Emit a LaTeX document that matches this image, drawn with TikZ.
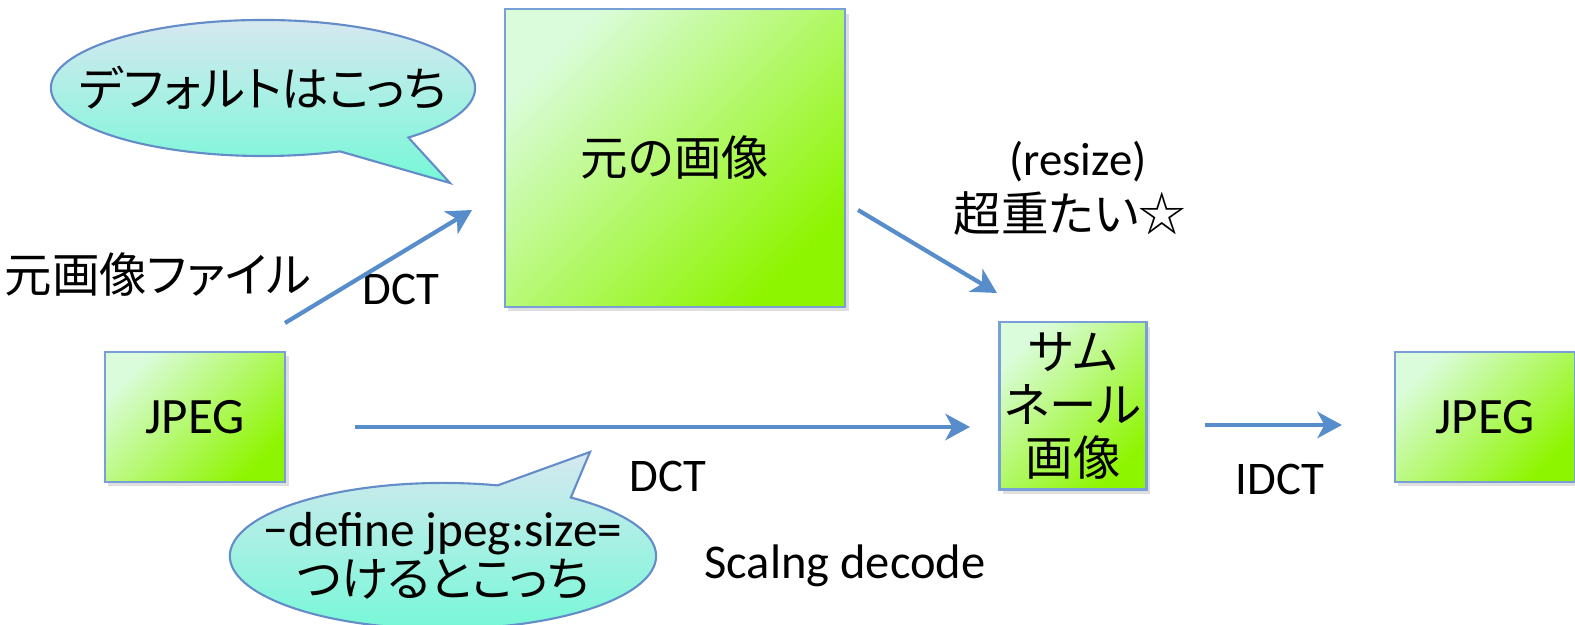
\documentclass[tikz,border=0pt]{standalone}
\usepackage{fontspec}
\setmainfont{Carlito}
\newfontfamily\jp[RawFeature=+palt]{Noto Sans CJK JP}
\usetikzlibrary{shapes.callouts,arrows.meta,shadows}

\definecolor{arrowblue}{RGB}{88,141,203}
\definecolor{boxline}{RGB}{120,160,215}
\definecolor{boxlight}{RGB}{218,252,218}
\definecolor{boxdark}{RGB}{142,245,0}
\definecolor{bubtop}{RGB}{214,232,240}
\definecolor{bubbottom}{RGB}{118,248,215}
\definecolor{bubline}{RGB}{100,140,200}

\tikzset{
  greenbox/.style={draw=boxline, line width=0.6pt, top color=boxlight, bottom color=boxdark,
    shading angle=45, inner sep=0pt, align=center,
    drop shadow={shadow xshift=1pt, shadow yshift=-1.2pt, opacity=0.25}},
  bubble/.style={ellipse callout, draw=bubline, line width=0.6pt, top color=bubtop,
    bottom color=bubbottom, inner sep=0pt, align=center, callout pointer arc=22},
  flow/.style={draw=arrowblue, line width=1.2pt, -{Stealth[length=7pt,width=7.5pt,inset=2pt]}},
  jtext/.style={font=\jp\fontsize{13.5}{15}\selectfont},
  ltext/.style={font=\fontsize{13.3}{15}\selectfont}
}

\begin{document}
\begin{tikzpicture}[x=0.01cm,y=-0.01cm]
  \useasboundingbox (0,0) rectangle (1575,625);

  % boxes
  \node[greenbox, jtext, minimum width=3.4cm, minimum height=2.97cm] (orig) at (675,158) {元の画像};
  \node[greenbox, font=\fontsize{14.5}{16}\selectfont, minimum width=1.8cm, minimum height=1.3cm] (src) at (195,417) {JPEG};
  \node[greenbox, jtext, minimum width=1.47cm, minimum height=1.67cm] (thumb) at (1073,406)
    {サム\\ネール\\画像};
  \node[greenbox, font=\fontsize{14.5}{16}\selectfont, minimum width=1.8cm, minimum height=1.3cm] (dst) at (1485,417) {JPEG};

  % bubbles
  \node[bubble, jtext, minimum width=4.24cm, minimum height=1.36cm,
    callout absolute pointer={(450,183)}] (deflt) at (263,88) {\makebox[0pt]{デフォルトはこっち}};
  \node[bubble, font=\fontsize{14}{14}\selectfont, minimum width=4.26cm, minimum height=1.46cm,
    callout absolute pointer={(590,452)}] (sizeopt) at (443,556)
    {\makebox[0pt]{−define jpeg:size=}\\
     \makebox[0pt]{\jp\fontsize{13.5}{14}\selectfont つけるとこっち}};

  % labels
  \node[jtext] (fname) at (158,275) {元画像ファイル};
  \node[ltext] (dct1) at (401,289) {DCT};
  \node[ltext] (rsz) at (1078,162) {(resize)};
  \node[jtext] (heavy) at (1070,213) {超重たい☆};
  \node[ltext] (dct2) at (668,476) {DCT};
  \node[ltext, font=\fontsize{13.8}{15}\selectfont] (scal) at (845,566) {Scalng decode};
  \node[ltext] (idct) at (1280,479) {IDCT};

  % arrows
  \coordinate (a1) at (285,323); \coordinate (a2) at (472,210);
  \coordinate (b1) at (858,210); \coordinate (b2) at (997,293);
  \coordinate (c1) at (355,427); \coordinate (c2) at (970,427);
  \coordinate (d1) at (1205,425); \coordinate (d2) at (1342,425);
  \draw[flow] (a1) -- (a2);
  \draw[flow] (b1) -- (b2);
  \draw[flow] (c1) -- (c2);
  \draw[flow] (d1) -- (d2);
\end{tikzpicture}
\end{document}
